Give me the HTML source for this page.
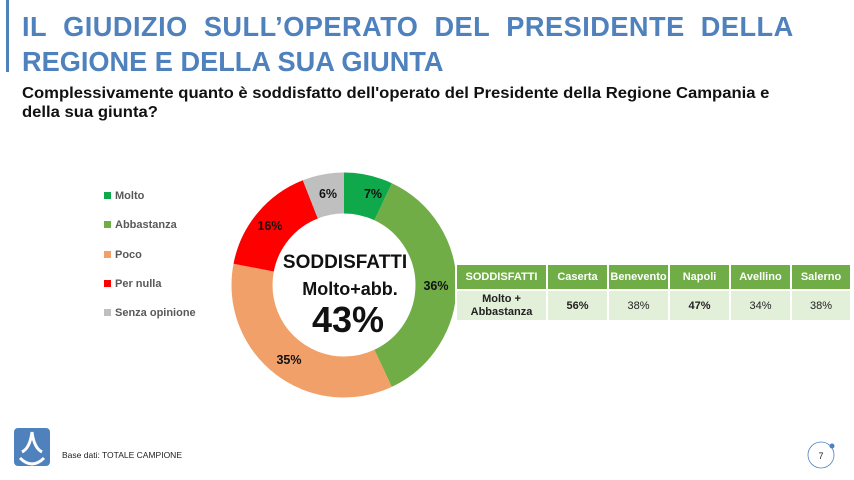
<!DOCTYPE html>
<html><head><meta charset="utf-8"><style>
body{margin:0;width:854px;height:480px;background:#fff;font-family:"Liberation Sans",sans-serif;position:relative;overflow:hidden}
.t{position:absolute;left:22px;color:#4f81bd;font-weight:bold;font-size:28px;letter-spacing:0.5px;white-space:nowrap;transform:scaleX(0.97);transform-origin:left}
.bar{position:absolute;left:6px;top:0;width:3px;height:72px;background:#4f81bd}
.q{position:absolute;left:22px;top:84px;font-size:16px;font-weight:bold;line-height:19px;color:#111;transform:scaleX(1.04);transform-origin:left;white-space:nowrap}
.lg{position:absolute;left:104px;font-size:11px;font-weight:bold;color:#595959}
.lg i{display:inline-block;width:7px;height:7px;margin-right:4px}
table{position:absolute;left:455px;top:263px;border-collapse:collapse;font-size:11px}
td{border:2px solid #fff;text-align:center;padding:0}
.h td{background:#70ad47;color:#fff;height:24px;font-weight:bold}
.r td{background:#e2efd9;color:#222;height:29px}
</style></head><body>
<div class="bar"></div>
<div class="t" style="top:11px">IL&nbsp; GIUDIZIO&nbsp; SULL’OPERATO&nbsp; DEL&nbsp; PRESIDENTE&nbsp; DELLA</div>
<div class="t" style="top:46px;letter-spacing:0">REGIONE E DELLA SUA GIUNTA</div>
<div class="q">Complessivamente quanto è soddisfatto dell'operato del Presidente della Regione Campania e<br>della sua giunta?</div>
<div class="lg" style="top:190px"><i style="background:#0fa84a"></i>Molto</div>
<div class="lg" style="top:219px"><i style="background:#70ad47"></i>Abbastanza</div>
<div class="lg" style="top:249px"><i style="background:#f0a068"></i>Poco</div>
<div class="lg" style="top:278px"><i style="background:#ff0000"></i>Per nulla</div>
<div class="lg" style="top:307px"><i style="background:#bfbfbf"></i>Senza opinione</div>
<svg width="854" height="480" style="position:absolute;left:0;top:0">
<g transform="rotate(-90 344 285)" fill="none" stroke-width="41">
<circle cx="344" cy="285" r="92" stroke="#0fa84a" stroke-dasharray="40.46 600" stroke-dashoffset="0"/>
<circle cx="344" cy="285" r="92" stroke="#70ad47" stroke-dasharray="208.1 600" stroke-dashoffset="-40.46"/>
<circle cx="344" cy="285" r="92" stroke="#f0a068" stroke-dasharray="202.3 600" stroke-dashoffset="-248.56"/>
<circle cx="344" cy="285" r="92" stroke="#ff0000" stroke-dasharray="92.5 600" stroke-dashoffset="-450.86"/>
<circle cx="344" cy="285" r="92" stroke="#bfbfbf" stroke-dasharray="34.7 600" stroke-dashoffset="-543.36"/>
</g>
<g font-family="Liberation Sans" font-weight="bold" font-size="12.5" fill="#111" text-anchor="middle">
<text x="373" y="198">7%</text><text x="328" y="198">6%</text>
<text x="270" y="230">16%</text><text x="436" y="290">36%</text><text x="289" y="364">35%</text>
<text x="345" y="268" font-size="19">SODDISFATTI</text>
<text x="350" y="295" font-size="18">Molto+abb.</text>
<text x="348" y="332" font-size="36">43%</text>
</g>
<rect x="14" y="428" width="36" height="38" rx="4" fill="#4f81bd"/>
<path d="M20 458 Q32 470 44 458 M22 452 Q30 448 32 432 Q34 448 42 452" stroke="#fff" stroke-width="3" fill="none"/>
<text x="62" y="458" font-size="8.5" fill="#222" font-family="Liberation Sans">Base dati: TOTALE CAMPIONE</text>
<circle cx="821" cy="455" r="13" fill="none" stroke="#4f81bd" stroke-width="0.8"/>
<circle cx="832" cy="446" r="2.5" fill="#4f81bd"/>
<text x="821" y="459" font-size="9" text-anchor="middle" fill="#222" font-family="Liberation Sans">7</text>
</svg>
<table>
<tr class="h"><td style="width:89px">SODDISFATTI</td><td style="width:59px">Caserta</td><td style="width:59px">Benevento</td><td style="width:59px">Napoli</td><td style="width:59px">Avellino</td><td style="width:58px">Salerno</td></tr>
<tr class="r"><td style="font-weight:bold;line-height:13px">Molto +<br>Abbastanza</td><td style="font-weight:bold">56%</td><td>38%</td><td style="font-weight:bold">47%</td><td>34%</td><td>38%</td></tr>
</table>
</body></html>
